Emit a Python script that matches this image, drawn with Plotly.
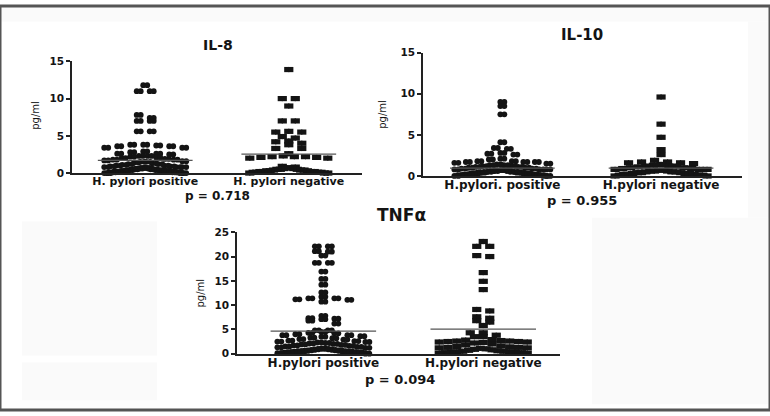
import plotly.graph_objects as go

W, H = 770, 416

# ---------------- data ----------------
titles = ["IL-8", "IL-10", "TNFα"]
p_values = ["p = 0.718", "p = 0.955", "p = 0.094"]
y_label = "pg/ml"

categories_il8 = ["H. pylori positive", "H. pylori negative"]
categories_il10 = ["H.pylori. positive", "H.pylori negative"]
categories_tnf = ["H.pylori positive", "H.pylori negative"]

il8_positive = [11.8, 11.0, 11.0, 7.8, 7.4, 7.0, 7.0, 5.6, 5.6,
                3.8, 3.8, 3.7, 3.6, 3.6, 3.4, 3.4,
                2.9, 2.8, 2.6, 2.6, 2.5, 2.3, 2.3, 2.2, 2.1, 2.0,
                1.9, 1.8, 1.8, 1.7, 1.6, 1.5, 1.5, 1.4, 1.3, 1.2, 1.2, 1.1, 1.0, 1.0,
                0.9, 0.9, 0.8, 0.8, 0.8, 0.7, 0.7, 0.7, 0.6, 0.6, 0.6, 0.5, 0.5, 0.5, 0.5,
                0.4, 0.4, 0.4, 0.4, 0.3, 0.3, 0.3, 0.3, 0.3, 0.2, 0.2, 0.2, 0.2, 0.2,
                0.1, 0.1, 0.1, 0.1, 0.1, 0.0, 0.0, 0.0, 0.0]
il8_negative = [13.9, 10.0, 10.0, 9.0, 7.0, 7.0, 5.6, 5.5, 5.5, 4.9, 4.7, 4.3, 4.2, 4.0, 3.8,
                3.3, 3.3, 2.6, 2.3, 2.2, 2.2, 2.2, 2.1, 2.1, 2.0, 2.0,
                0.9, 0.8, 0.7, 0.7, 0.6, 0.6, 0.5, 0.5, 0.5, 0.4, 0.4, 0.4, 0.3, 0.3, 0.3,
                0.2, 0.2, 0.2, 0.2, 0.1, 0.1, 0.1, 0.1, 0.0, 0.0, 0.0]
il8_means = [1.7, 2.55]

il10_positive = [9.0, 8.5, 7.5, 4.1, 3.4, 3.3, 2.8, 2.7, 2.6, 2.1, 2.0,
                 1.8, 1.8, 1.7, 1.7, 1.7, 1.6, 1.5, 1.4, 1.3, 1.3, 1.2, 1.2, 1.1, 1.1, 1.0, 1.0,
                 0.9, 0.9, 0.8, 0.8, 0.8, 0.7, 0.7, 0.7, 0.6, 0.6, 0.6, 0.5, 0.5, 0.5, 0.5,
                 0.4, 0.4, 0.4, 0.4, 0.3, 0.3, 0.3, 0.3, 0.2, 0.2, 0.2, 0.2,
                 0.1, 0.1, 0.1, 0.1, 0.0, 0.0, 0.0]
il10_negative = [9.6, 6.3, 4.7, 3.2, 2.6, 1.9, 1.7, 1.7, 1.6, 1.6, 1.5, 1.4, 1.3,
                 1.2, 1.2, 1.2, 1.1, 1.0, 1.0, 0.9, 0.9, 0.8, 0.8, 0.8, 0.7, 0.7,
                 0.6, 0.6, 0.6, 0.5, 0.5, 0.5, 0.4, 0.4, 0.4, 0.3, 0.3, 0.3,
                 0.2, 0.2, 0.2, 0.1, 0.1, 0.1, 0.0, 0.0]
il10_means = [0.95, 0.95]

tnf_positive = [22.1, 22.1, 21.1, 21.0, 20.2, 18.7, 18.7, 16.9, 15.4, 14.2, 12.6,
                11.7, 11.4, 11.4, 11.2, 11.1, 10.7, 7.8, 7.3, 7.2, 7.1, 6.8, 6.2,
                4.8, 4.8, 4.5, 4.3, 4.2, 4.0, 3.8, 3.8, 3.6, 3.5, 3.3, 3.2, 3.0, 2.9,
                2.7, 2.6, 2.5, 2.4, 2.3, 2.2, 2.1, 2.0, 1.9, 1.8, 1.7, 1.6, 1.5, 1.4,
                1.3, 1.2, 1.1, 1.0, 1.0, 0.9, 0.9, 0.8, 0.8, 0.7, 0.7, 0.6, 0.6,
                0.5, 0.5, 0.5, 0.4, 0.4, 0.4, 0.3, 0.3, 0.3, 0.2, 0.2, 0.2, 0.1, 0.1, 0.1, 0.0]
tnf_negative = [23.1, 22.1, 22.1, 20.2, 20.0, 16.7, 14.9, 13.2, 9.1, 8.8, 7.6, 7.3, 6.8,
                6.5, 5.8, 4.3, 4.3, 3.8, 3.5, 3.5, 2.9, 2.8, 2.7, 2.6, 2.6, 2.5, 2.5,
                2.4, 2.4, 2.3, 2.2, 2.0, 1.8, 1.6, 1.5, 1.4, 1.3, 1.3, 1.2, 1.2, 1.1,
                1.0, 0.9, 0.8, 0.7, 0.6, 0.5, 0.5, 0.4, 0.4, 0.3, 0.3, 0.2, 0.2, 0.1, 0.1]
tnf_means = [4.65, 5.05]

y_ticks_il8 = [0, 5, 10, 15]
y_ticks_il10 = [0, 5, 10, 15]
y_ticks_tnf = [0, 5, 10, 15, 20, 25]

# ---------------- layout helpers ----------------
def px_x(p):
    return p / W


def px_y(p):
    return 1 - p / H


panels = [
    dict(cats=categories_il8, pos=il8_positive, neg=il8_negative, means=il8_means,
         yt=y_ticks_il8, box=(72, 362, 57, 172), xr=(0.49, 2.51), yr=(0, 15),
         title=titles[0], title_xy=(218, 40), title_size=14, cat_size=11,
         p=p_values[0], p_xy=(217, 195.5), p_size=12, ylab_xy=(36, 113), maxw=78),
    dict(cats=categories_il10, pos=il10_positive, neg=il10_negative, means=il10_means,
         yt=y_ticks_il10, box=(423, 742, 48, 175), xr=(0.50, 2.51), yr=(0, 15),
         title=titles[1], title_xy=(582, 30), title_size=15, cat_size=12,
         p=p_values[1], p_xy=(582, 200.5), p_size=13, ylab_xy=(383, 112), maxw=92),
    dict(cats=categories_tnf, pos=tnf_positive, neg=tnf_negative, means=tnf_means,
         yt=y_ticks_tnf, box=(237, 560, 233, 358), xr=(0.46, 2.48), yr=(0, 25),
         title=titles[2], title_xy=(401, 215), title_size=17, cat_size=12,
         p=p_values[2], p_xy=(400, 384.5), p_size=13, ylab_xy=(200, 295), maxw=88),
]


def swarm_offsets(values, ppx, ppy, step_px=13.0, row_px=6.0, max_px=88.0):
    rows = {}
    for i, v in enumerate(values):
        rows.setdefault(int(v * ppy // row_px), []).append(i)
    offs = [0.0] * len(values)
    for idx in rows.values():
        idx = sorted(idx, key=lambda i: -values[i])
        n = len(idx)
        step = step_px if n <= 1 else min(step_px, max_px / (n - 1))
        slots = sorted(range(n), key=lambda k: abs(k - (n - 1) / 2))
        for rank, i in enumerate(idx):
            offs[i] = (slots[rank] - (n - 1) / 2) * step / ppx
    return offs


INK = "#141414"
FONT = "DejaVu Sans"

fig = go.Figure()
shapes = []
annotations = []

# faint scanned-background patches
for (x0, x1, y0, y1) in [(0, 770, 0, 16), (22, 157, 222, 360), (22, 157, 367, 406),
                         (592, 768, 218, 410), (748, 770, 16, 218)]:
    shapes.append(dict(type="rect", xref="paper", yref="paper", layer="below",
                       x0=px_x(x0), x1=px_x(x1), y0=px_y(y1), y1=px_y(y0),
                       fillcolor="#fafafa", line=dict(width=0)))

for k, pnl in enumerate(panels):
    suffix = "" if k == 0 else str(k + 1)
    xa, ya = "x" + suffix, "y" + suffix
    left, right, top, bottom = pnl["box"]
    ppx = (right - left) / (pnl["xr"][1] - pnl["xr"][0])
    ppy = (bottom - top) / (pnl["yr"][1] - pnl["yr"][0])
    half = 2.0 / ppx
    for ci, (vals, sym, sz) in enumerate([(pnl["pos"], "circle", 5.8), (pnl["neg"], "square", 5.2)]):
        offs = swarm_offsets(vals, ppx, ppy, max_px=pnl["maxw"])
        xc = ci + 1
        for side in (-1, 1):
            fig.add_trace(go.Scatter(
                x=[xc + o + side * half for o in offs], y=vals, mode="markers",
                marker=dict(symbol=sym, size=sz, color=INK, line=dict(width=0)),
                xaxis=xa, yaxis=ya, cliponaxis=False, showlegend=False, hoverinfo="y"))
        m = pnl["means"][ci]
        fig.add_trace(go.Scatter(
            x=[xc - 0.33, xc + 0.33], y=[m, m], mode="lines",
            line=dict(color="#555555", width=1.2),
            xaxis=xa, yaxis=ya, showlegend=False, hoverinfo="skip", cliponaxis=False))

    fig.layout["xaxis" + suffix] = dict(
        domain=[px_x(left), px_x(right)], range=list(pnl["xr"]), anchor=ya,
        showline=True, linecolor="#222222", linewidth=1.5, showgrid=False, zeroline=False,
        tickvals=[1, 2], ticktext=pnl["cats"], ticks="", ticklabelstandoff=-3,
        tickfont=dict(family=FONT, size=pnl["cat_size"], color=INK, weight="bold"),
        fixedrange=True)
    fig.layout["yaxis" + suffix] = dict(
        domain=[px_y(bottom), px_y(top)], range=list(pnl["yr"]), anchor=xa,
        showline=True, linecolor="#222222", linewidth=1.5, showgrid=False, zeroline=False,
        tickvals=pnl["yt"], ticks="outside", ticklen=4, tickwidth=1.5, tickcolor="#222222",
        tickfont=dict(family=FONT, size=10.5, color=INK, weight="bold"), fixedrange=True)

    tx, ty = pnl["title_xy"]
    annotations.append(dict(text=pnl["title"], x=px_x(tx), y=px_y(ty), xref="paper", yref="paper",
                            showarrow=False, xanchor="center", yanchor="middle",
                            font=dict(family=FONT, size=pnl["title_size"], color=INK, weight="bold")))
    qx, qy = pnl["p_xy"]
    annotations.append(dict(text=pnl["p"], x=px_x(qx), y=px_y(qy), xref="paper", yref="paper",
                            showarrow=False, xanchor="center", yanchor="middle",
                            font=dict(family=FONT, size=pnl["p_size"], color=INK, weight="bold")))
    lx, ly = pnl["ylab_xy"]
    annotations.append(dict(text=y_label, x=px_x(lx), y=px_y(ly), xref="paper", yref="paper",
                            showarrow=False, xanchor="center", yanchor="middle", textangle=-90,
                            font=dict(family=FONT, size=10, color=INK)))

# outer frame of the image
shapes.append(dict(type="rect", xref="paper", yref="paper", x0=0, x1=1, y0=0, y1=1,
                   line=dict(color="#555555", width=3), layer="above"))

fig.update_layout(width=W, height=H, margin=dict(l=0, r=0, t=0, b=0),
                  paper_bgcolor="white", plot_bgcolor="rgba(0,0,0,0)",
                  shapes=shapes, annotations=annotations, showlegend=False)

fig.write_html("out.html", config={"displayModeBar": False},
               post_script="document.body.style.margin='0';document.body.style.overflow='hidden';")
